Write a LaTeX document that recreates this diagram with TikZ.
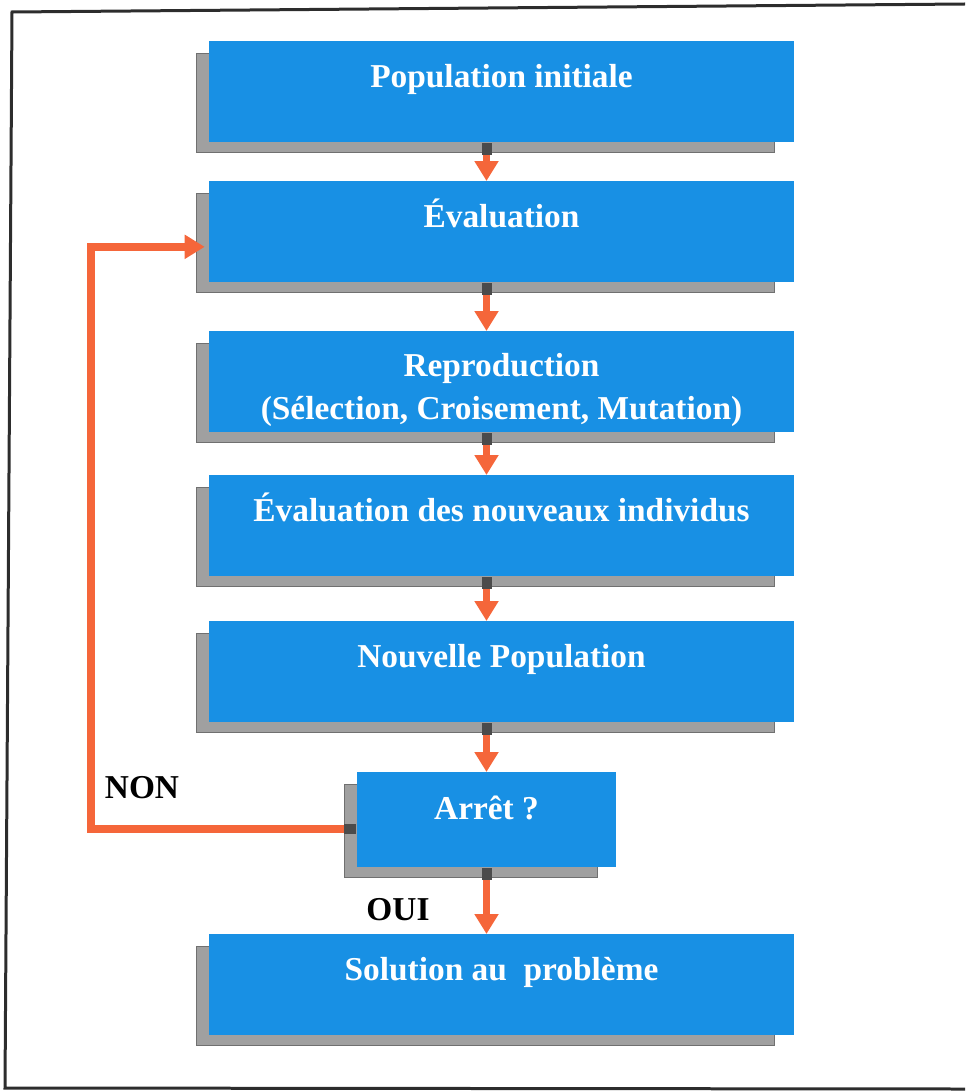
\documentclass[tikz,border=0pt]{standalone}
\usepackage{fontspec}
\setmainfont{Liberation Serif}
\usetikzlibrary{arrows.meta,backgrounds}

\definecolor{bleu}{RGB}{24,144,228}
\definecolor{fleorange}{RGB}{245,102,58}
\definecolor{ombre}{RGB}{160,160,160}
\definecolor{joint}{RGB}{75,75,75}
\definecolor{cadre}{RGB}{45,45,45}

\tikzset{
    etape/.style={rectangle, fill=bleu, text=white, inner sep=0pt, anchor=north,
        minimum width=11.7cm, font=\bfseries\fontsize{19}{24.4}\selectfont,
        text height=0.92cm, text depth=1.1cm},
    rep/.style={font=\bfseries\fontsize{19}{24.4}\selectfont, text=black},
    fleche/.style={draw=fleorange, line width=0.15cm,
        arrows={Square[length=0.24cm,width=0.2cm,color=joint]-Triangle[length=0.4cm,width=0.46cm]}},
    ombrage/.style={fill=ombre, draw=ombre!70!black, line width=0.3pt}
}

\begin{document}
\begin{tikzpicture}[x=0.02cm, y=-0.02cm]
        \useasboundingbox (0, 0) rectangle (965, 1091);
        \draw[cadre, line width=0.06cm] (965, 4) -- (12, 12) -- (5, 1088) -- (965, 1089);

        \node[etape] (pop) at (501.5, 41) {Population initiale};
        \node[etape] (eval) at (501.5, 181) {Évaluation};
        \node[etape, align=center, text height=1.76cm, text depth=0.26cm] (repro) at (501.5, 331)
            {Reproduction\\(Sélection, Croisement, Mutation)};
        \node[etape] (evalnouv) at (501.5, 475) {Évaluation des nouveaux individus};
        \node[etape] (nouvpop) at (501.5, 621) {Nouvelle Population};
        \node[etape, minimum width=5.2cm, text height=0.94cm, text depth=0.96cm] (arret) at (486.5, 772) {Arrêt ?};
        \node[etape] (sol) at (501.5, 934) {Solution au\ \ problème};

        \node[rep] (non) at (142, 788) {NON};
        \node[rep] (oui) at (398, 910) {OUI};

        \begin{scope}[on background layer]
            \foreach \b in {pop, eval, repro, evalnouv, nouvpop, arret, sol}
                \fill[ombrage] ([shift={(-12, 12)}]\b.north west) rectangle ([shift={(-20, 10)}]\b.south east);
        \end{scope}

        \foreach \a/\b in {pop/eval, eval/repro, repro/evalnouv, evalnouv/nouvpop, nouvpop/arret, arret/sol}
            \draw[fleche] (\a.south -| arret) -- (\b.north -| arret);

        \draw[fleche] ([yshift=-0.18cm]arret.west) -- ++(-265, 0) |- ([xshift=-0.08cm, yshift=-0.3cm]eval.west);
    \end{tikzpicture}
\end{document}
